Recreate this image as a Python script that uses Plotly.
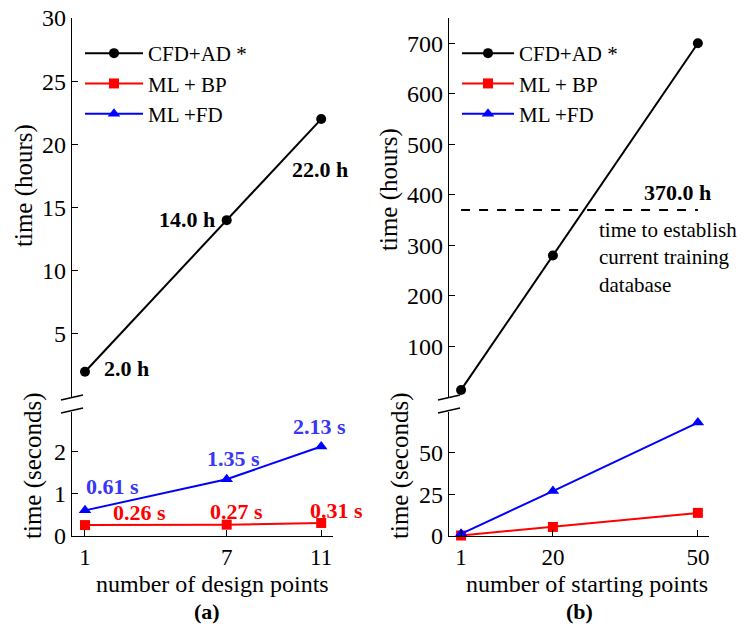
import plotly.graph_objects as go

# ---------------- data ----------------
design_points = [1, 7, 11]
cfd_hours_a = [2.0, 14.0, 22.0]
ml_bp_sec_a = [0.26, 0.27, 0.31]
ml_fd_sec_a = [0.61, 1.35, 2.13]

starting_points = [1, 20, 50]
cfd_hours_b = [14.0, 280.0, 700.0]
ml_bp_sec_b = [0.3, 5.4, 13.8]
ml_fd_sec_b = [1.3, 26.8, 67.7]

db_time_hours = 370.0
db_x = [1, 50]

names = ["CFD+AD *", "ML + BP", "ML +FD"]
W, H = 749, 626
FONT = "Liberation Serif"
BLUE_TXT = "rgb(55,55,245)"


def px(x):
    return x / W


def py(y):
    return (H - y) / H


fig = go.Figure()

# axes domains
LX = [px(72), px(333)]
RX = [px(449), px(709)]
TY = [py(397), py(18)]
BY = [py(536), py(412)]

line_w = 2
fig.add_trace(go.Scatter(x=design_points, y=cfd_hours_a, mode="lines+markers", name=names[0],
                         line=dict(color="black", width=line_w), marker=dict(symbol="circle", size=10, color="black"),
                         xaxis="x", yaxis="y", legend="legend"))
fig.add_trace(go.Scatter(x=design_points, y=ml_bp_sec_a, mode="lines+markers", name=names[1],
                         line=dict(color="red", width=line_w), marker=dict(symbol="square", size=10, color="red"),
                         xaxis="x3", yaxis="y3", legend="legend"))
fig.add_trace(go.Scatter(x=design_points, y=ml_fd_sec_a, mode="lines+markers", name=names[2],
                         line=dict(color="blue", width=line_w), marker=dict(symbol="triangle-up", size=11, color="blue"),
                         xaxis="x3", yaxis="y3", legend="legend"))

fig.add_trace(go.Scatter(x=starting_points, y=cfd_hours_b, mode="lines+markers", name=names[0],
                         line=dict(color="black", width=line_w), marker=dict(symbol="circle", size=10, color="black"),
                         xaxis="x2", yaxis="y2", legend="legend2", cliponaxis=False))
fig.add_trace(go.Scatter(x=starting_points, y=ml_bp_sec_b, mode="lines+markers", name=names[1],
                         line=dict(color="red", width=line_w), marker=dict(symbol="square", size=10, color="red"),
                         xaxis="x4", yaxis="y4", legend="legend2", cliponaxis=False))
fig.add_trace(go.Scatter(x=starting_points, y=ml_fd_sec_b, mode="lines+markers", name=names[2],
                         line=dict(color="blue", width=line_w), marker=dict(symbol="triangle-up", size=11, color="blue"),
                         xaxis="x4", yaxis="y4", legend="legend2", cliponaxis=False))
fig.add_trace(go.Scatter(x=db_x, y=[db_time_hours] * len(db_x), mode="lines", showlegend=False,
                         line=dict(color="black", width=2, dash="dash"), xaxis="x2", yaxis="y2"))

tickfont = dict(family=FONT, size=24, color="black")
xtickfont = dict(family=FONT, size=23, color="black")
common_y = dict(showline=True, linecolor="black", linewidth=1.2, ticks="inside", ticklen=6,
                tickcolor="black", showgrid=False, zeroline=False, tickfont=tickfont, automargin=False)
hidden_x = dict(showline=False, showticklabels=False, ticks="", showgrid=False, zeroline=False, automargin=False)
shown_x = dict(showline=True, linecolor="black", linewidth=1.2, ticks="inside", ticklen=6,
               tickcolor="black", showgrid=False, zeroline=False, tickfont=xtickfont, automargin=False)

fig.update_layout(
    width=W, height=H, margin=dict(l=0, r=0, t=0, b=0, autoexpand=False),
    paper_bgcolor="white", plot_bgcolor="white",
    font=dict(family=FONT, size=23, color="black"),
    xaxis=dict(domain=LX, anchor="y", range=[0.45, 11.5], matches="x3", **hidden_x),
    yaxis=dict(domain=TY, anchor="x", range=[0, 30], tickvals=[5, 10, 15, 20, 25, 30], **common_y),
    xaxis3=dict(domain=LX, anchor="y3", range=[0.45, 11.5], tickvals=design_points, **shown_x),
    yaxis3=dict(domain=BY, anchor="x3", range=[0, 2.95], tickvals=[0, 1, 2], **common_y),
    xaxis2=dict(domain=RX, anchor="y2", range=[-1.5, 52.3], matches="x4", **hidden_x),
    yaxis2=dict(domain=TY, anchor="x2", range=[0, 750], tickvals=[100, 200, 300, 400, 500, 600, 700], **common_y),
    xaxis4=dict(domain=RX, anchor="y4", range=[-1.5, 52.3], tickvals=starting_points, **shown_x),
    yaxis4=dict(domain=BY, anchor="x4", range=[0, 74], tickvals=[0, 25, 50], **common_y),
    legend=dict(x=px(80), y=py(33), xanchor="left", yanchor="top", bgcolor="rgba(0,0,0,0)",
                font=dict(family=FONT, size=21), tracegroupgap=0, itemwidth=58),
    legend2=dict(x=px(457), y=py(33), xanchor="left", yanchor="top", bgcolor="rgba(0,0,0,0)",
                 font=dict(family=FONT, size=21), tracegroupgap=0, itemwidth=52),
    showlegend=True,
)

ann = []


def lab(x, y, text, xs, ys, xa, ya, color="black"):
    ann.append(dict(x=x, y=y, xref=xa, yref=ya, text="<b>%s</b>" % text, showarrow=False,
                    xanchor="center", yanchor="middle",
                    xshift=xs, yshift=ys, font=dict(family=FONT, size=22, color=color)))


# panel (a) hour labels
a_shifts = [(42, 3), (-40, 1), (-1, -50)]
for xv, yv, (xs, ys) in zip(design_points, cfd_hours_a, a_shifts):
    lab(xv, yv, "%.1f h" % yv, xs, ys, "x", "y")
fd_shifts = [(28, 24), (7, 21), (-2, 20)]
for xv, yv, (xs, ys) in zip(design_points, ml_fd_sec_a, fd_shifts):
    lab(xv, yv, "%.2f s" % yv, xs, ys, "x3", "y3", BLUE_TXT)
bp_shifts = [(55, 13), (10, 13), (15, 12)]
for xv, yv, (xs, ys) in zip(design_points, ml_bp_sec_a, bp_shifts):
    lab(xv, yv, "%.2f s" % yv, xs, ys, "x3", "y3", "red")

# panel (b) database line label
lab(db_x[1], db_time_hours, "%.1f h" % db_time_hours, -20, 18, "x2", "y2")
ann.append(dict(x=px(597), y=py(216), xref="paper", yref="paper", xanchor="left", yanchor="top",
                align="left", showarrow=False,
                text="time to establish<br>current training<br>database",
                font=dict(family=FONT, size=21, color="black")))


def title(x, y, text, angle=0, bold=False, size=25):
    ann.append(dict(x=px(x), y=py(y), xref="paper", yref="paper", text=("<b>%s</b>" % text) if bold else text,
                    xanchor="center", yanchor="middle",
                    showarrow=False, textangle=angle, font=dict(family=FONT, size=size, color="black")))


title(24, 186, "time (hours)", -90)
title(389, 190, "time (hours)", -90)
title(33, 466, "time (seconds)", -90)
title(400, 466, "time (seconds)", -90)
title(212, 584, "number of design points", size=24)
title(587, 584, "number of starting points", size=24)
title(207, 611, "(a)", bold=True, size=22)
title(579, 611, "(b)", bold=True, size=22)

fig.update_layout(annotations=ann)

# axis break marks
shapes = []
for ax_x in (72, 449):
    for cy in (397.5, 410.5):
        shapes.append(dict(type="line", xref="paper", yref="paper",
                           x0=px(ax_x - 11), y0=py(cy + 2.5), x1=px(ax_x + 11), y1=py(cy - 2.5),
                           line=dict(color="black", width=1.5)))
fig.update_layout(shapes=shapes)

fig.write_html("out.html")
